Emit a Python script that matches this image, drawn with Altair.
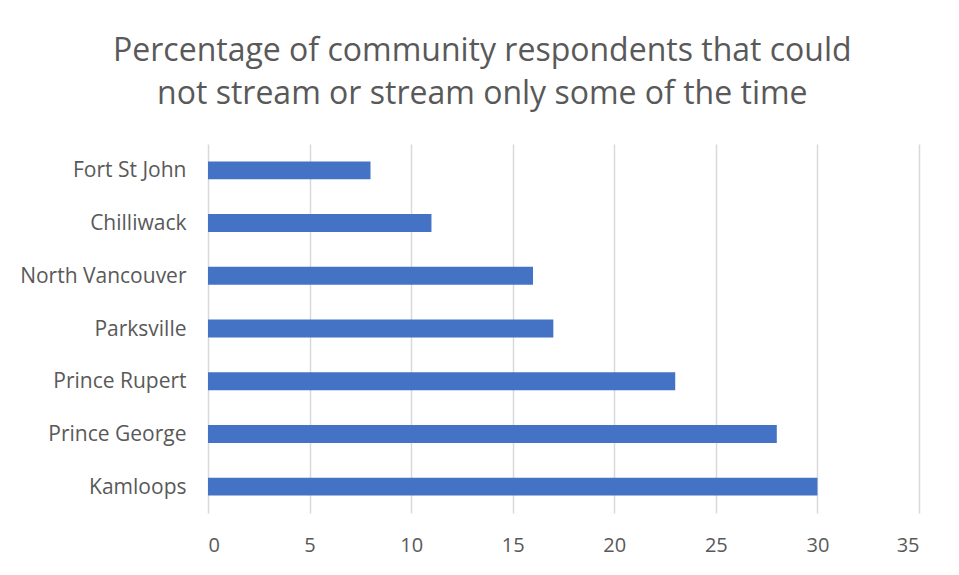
import altair as alt
import pandas as pd

cities = ["Fort St John", "Chilliwack", "North Vancouver", "Parksville",
          "Prince Rupert", "Prince George", "Kamloops"]
values = [8, 11, 16, 17, 23, 28, 30]
x_ticks = [0, 5, 10, 15, 20, 25, 30, 35]

df = pd.DataFrame({"city": cities, "value": values})

chart = alt.Chart(df).mark_bar(color="#4472C4").encode(
    x=alt.X("value:Q",
            scale=alt.Scale(domain=[0, 35], nice=False),
            axis=alt.Axis(values=x_ticks, title=None, domain=False, ticks=False,
                          grid=True, gridColor="#d9d9d9", gridWidth=1.5,
                          labelPadding=22, labelFontSize=20, labelColor="#595959",
                          labelFont="Open Sans")),
    y=alt.Y("city:N", sort=cities,
            scale=alt.Scale(paddingInner=0.66, paddingOuter=0.33),
            axis=alt.Axis(title=None, domain=False, ticks=False, grid=False,
                          labelPadding=22, labelFontSize=21, labelColor="#595959",
                          labelFont="Open Sans", labelBaseline="middle", labelOffset=1)),
).properties(
    width=711,
    height=369,
    padding={"left": 200, "top": 136, "right": 24, "bottom": 50},
    autosize=alt.AutoSizeParams(type="none"),
    title=alt.TitleParams(
        ["Percentage of community respondents that could",
         "not stream or stream only some of the time"],
        font="Open Sans", fontSize=32, fontWeight="normal", color="#595959",
        anchor="middle", frame="bounds", offset=33, lineHeight=43, dx=13,
    ),
).configure_view(stroke=None)

chart.save("out.html", embed_options={"renderer": "svg", "actions": False})
